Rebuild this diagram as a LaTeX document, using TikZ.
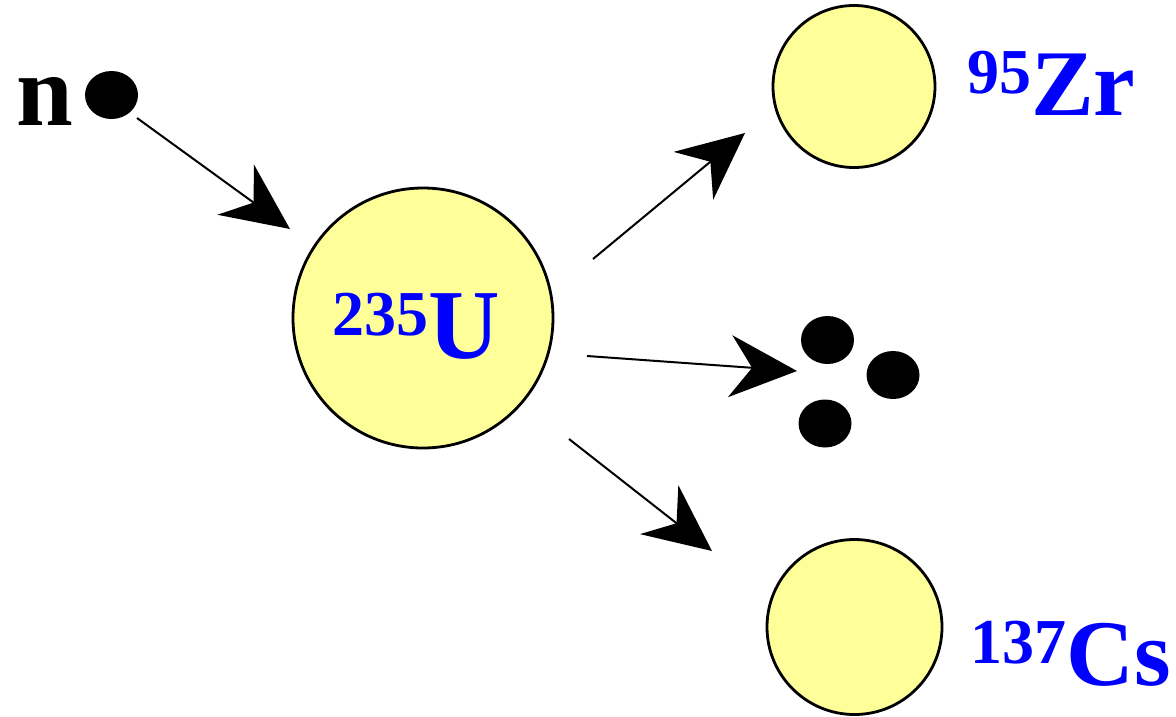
\documentclass[tikz,border=0pt]{standalone}
\usepackage{fontspec}
\setmainfont{Liberation Serif}
\usetikzlibrary{arrows.meta,shapes.geometric}
\definecolor{nucfill}{RGB}{255,255,153}
\definecolor{labblue}{RGB}{0,0,255}
\tikzset{
  nucleus/.style={circle, draw=black, line width=2.8pt, fill=nucfill, inner sep=0pt, minimum size=#1},
  particle/.style={ellipse, fill=black, inner sep=0pt, minimum width=53pt, minimum height=48pt},
  flow/.style={line width=2pt, -{Stealth[length=67pt,width=62pt,inset=22pt]}},
  isotope/.style={anchor=base west, inner sep=0pt, text=labblue, font=\bfseries},
}
\begin{document}
\begin{tikzpicture}[x=1pt,y=-1pt]
\useasboundingbox (0,0) rectangle (1176,716);
% particles
\node[anchor=base west, inner sep=0pt, font=\bfseries\fontsize{102}{102}\selectfont] (nlabel) at (16,125) {n};
\node[particle] (neutron) at (111.5,95) {};
\node[particle] (d1) at (827.5,340) {};
\node[particle] (d2) at (893,375) {};
\node[particle] (d3) at (825,423.5) {};
% nuclei
\node[nucleus=260pt] (U) at (423,318) {};
\node[nucleus=162pt] (Zr) at (854,86.5) {};
\node[nucleus=175pt] (Cs) at (854.5,627) {};
% labels
\node[isotope] (Ulab) at (332,358) {\raisebox{23pt}{\fontsize{64}{64}\selectfont 235}\fontsize{99}{99}\selectfont U};
\node[isotope] (Zrlab) at (967,115) {\raisebox{22pt}{\fontsize{64}{64}\selectfont 95}\fontsize{94}{94}\selectfont Zr};
\node[isotope] (Cslab) at (970,685) {\raisebox{22pt}{\fontsize{64}{64}\selectfont 137}\fontsize{94}{94}\selectfont Cs};
% connector ends
\coordinate (a1s) at (137,118);
\coordinate (a1e) at (290,229);
\coordinate (a2s) at (593,259);
\coordinate (a2e) at (745,133);
\coordinate (a3s) at (587,356);
\coordinate (a3e) at (797,371);
\coordinate (a4s) at (569,439);
\coordinate (a4e) at (712,551);
\draw[flow] (a1s) -- (a1e);
\draw[flow] (a2s) -- (a2e);
\draw[flow] (a3s) -- (a3e);
\draw[flow] (a4s) -- (a4e);
\end{tikzpicture}
\end{document}
